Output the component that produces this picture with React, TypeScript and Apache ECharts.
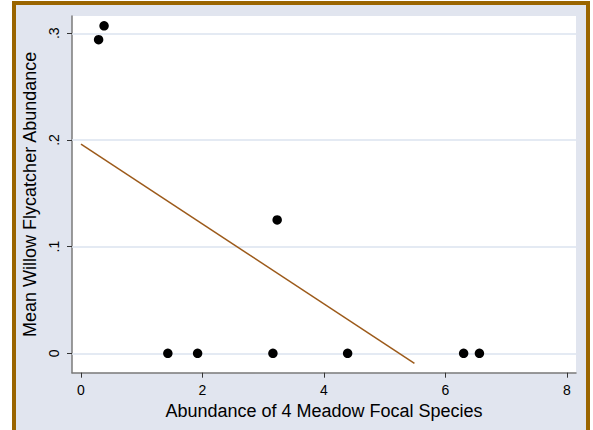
import React, { useEffect, useRef } from "react";
import * as echarts from "echarts";

const pointsX = [0.29, 0.38, 1.43, 1.92, 3.16, 3.23, 4.39, 6.30, 6.56];
const pointsY = [0.294, 0.307, 0, 0, 0, 0.125, 0, 0, 0];
const fitX = [0.0, 5.49];
const fitY = [0.196, -0.0094];
const xTicks = [0, 2, 4, 6, 8];
const yTicks = [0, 0.1, 0.2, 0.3];
const xTitle = "Abundance of 4 Meadow Focal Species";
const yTitle = "Mean Willow Flycatcher Abundance";

export default function App() {
  const ref = useRef<HTMLDivElement>(null);
  useEffect(() => {
    if (!ref.current) return;
    const chart = echarts.init(ref.current, undefined, { renderer: "svg" });
    const font = "'Liberation Sans', Arial, sans-serif";
    chart.setOption({
      animation: false,
      backgroundColor: "transparent",
      grid: {
        left: 72,
        right: 17,
        top: 16,
        bottom: 57.3,
        show: true,
        backgroundColor: "#ffffff",
        borderWidth: 0,
      },
      xAxis: {
        type: "value",
        min: -0.148,
        max: 8.15,
        name: xTitle,
        nameLocation: "middle",
        nameGap: 19,
        nameTextStyle: { fontFamily: font, fontSize: 18, color: "#000" },
        axisLine: { show: true, onZero: false, lineStyle: { color: "#7a7a7a", width: 1.5 } },
        axisTick: { show: true, customValues: xTicks, length: 5, lineStyle: { color: "#333", width: 1 } },
        axisLabel: { customValues: xTicks, margin: 10, fontFamily: font, fontSize: 14, color: "#000" },
        splitLine: { show: false },
      },
      yAxis: {
        type: "value",
        min: -0.0182,
        max: 0.3162,
        name: yTitle,
        nameLocation: "middle",
        nameGap: 20,
        nameTextStyle: { fontFamily: font, fontSize: 18, color: "#000" },
        axisLine: { show: true, onZero: false, lineStyle: { color: "#7a7a7a", width: 1.5 } },
        axisTick: { show: true, customValues: yTicks, length: 5, lineStyle: { color: "#333", width: 1 } },
        axisLabel: {
          customValues: yTicks,
          rotate: 90,
          margin: 11,
          fontFamily: font,
          fontSize: 14,
          color: "#000",
          formatter: (v: number) => (v === 0 ? "0" : String(Math.round(v * 10) / 10).replace(/^0/, "")),
        },
        splitLine: { show: false },
      },
      series: [
        {
          type: "line",
          data: [],
          silent: true,
          z: 1,
          markLine: {
            silent: true,
            z: 1,
            symbol: "none",
            label: { show: false },
            lineStyle: { color: "#dbe3ef", width: 1.5, type: "solid" },
            data: yTicks.map((v) => ({ yAxis: v })),
          },
        },
        {
          type: "line",
          data: fitX.map((x, i) => [x, fitY[i]]),
          symbol: "none",
          lineStyle: { color: "#9c5a1a", width: 1.5 },
          z: 10,
        },
        {
          type: "scatter",
          data: pointsX.map((x, i) => [x, pointsY[i]]),
          symbol: "circle",
          symbolSize: 9.5,
          itemStyle: { color: "#000", opacity: 1 },
          z: 11,
        },
      ],
    });
    return () => chart.dispose();
  }, []);
  return (
    <div style={{ position: "absolute", left: 0, top: 0, width: 593, height: 430, overflow: "hidden" }}>
      <div
        style={{
          position: "absolute",
          left: 12,
          top: 1,
          width: 578,
          height: 520,
          boxSizing: "border-box",
          border: "4.5px solid #9a6500",
          background: "#e1e5ef",
        }}
      />
      <div ref={ref} style={{ position: "absolute", left: 0, top: 0, width: 593, height: 430 }} />
    </div>
  );
}
